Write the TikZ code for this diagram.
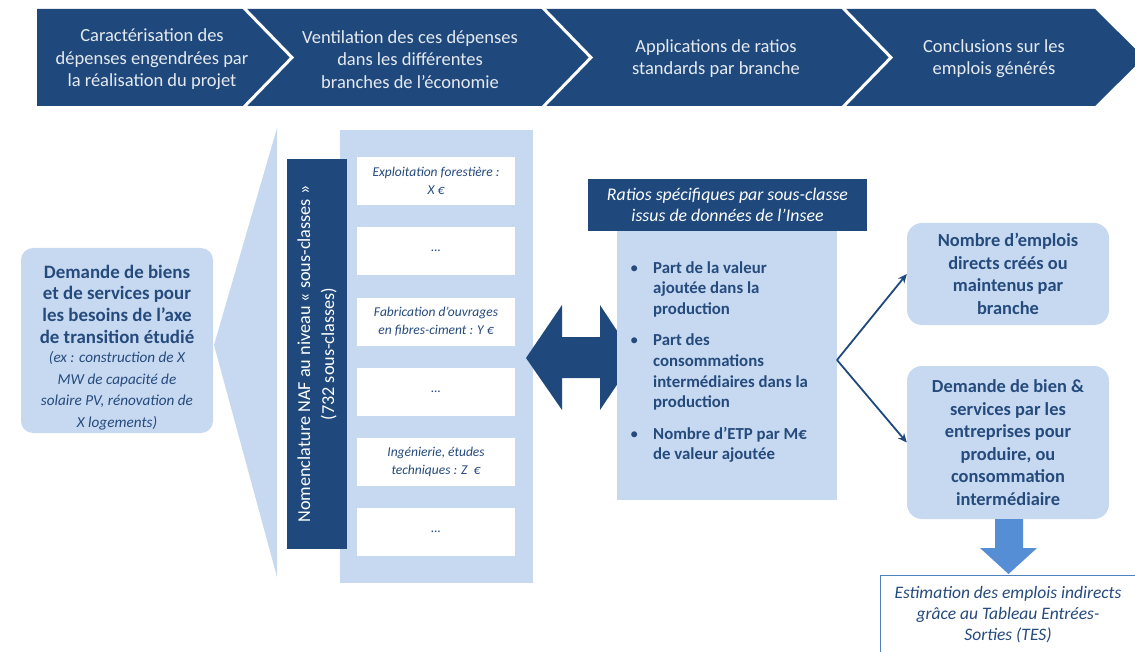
\documentclass[tikz,border=0pt]{standalone}
\usepackage{fontspec}
\setmainfont{Carlito}
\usetikzlibrary{arrows.meta}
\definecolor{navy}{HTML}{1F497D}
\definecolor{lightb}{HTML}{C6D9F1}
\definecolor{midb}{HTML}{558ED5}
\definecolor{bordb}{HTML}{4F81BD}
\definecolor{bandtext}{HTML}{E6EAF0}
\definecolor{txt}{HTML}{254A7C}
\newcommand{\boldsz}{\bfseries\fontsize{18.9}{21.8}\selectfont}
\newcommand{\itsz}{\mdseries\itshape\fontsize{15.2}{19.3}\selectfont}
\tikzset{
  bandtxt/.style={text=bandtext, align=center, font=\fontsize{18.5}{22.5}\selectfont},
  lightbox/.style={fill=lightb, rounded corners=12pt, inner sep=0pt, text=txt, align=center},
  whitebox/.style={fill=white, inner sep=0pt, minimum width=158pt, minimum height=48pt, text=txt, align=center, font=\itshape\fontsize{13.5}{18}\selectfont},
  fork/.style={draw=navy, line width=1.8pt, -{Stealth[length=9pt,width=8pt]}},
}
\begin{document}
\begin{tikzpicture}[x=1pt,y=-1pt]
\useasboundingbox (0,0) rectangle (1135,652);
% top band
\fill[navy] (37,9) -- (1095,9) -- (1144,57.5) -- (1095,106) -- (37,106) -- cycle;
\foreach \sx in {243,542,842}{
  \draw[white, line width=3pt] (\sx,7) -- (\sx+49,57.5) -- (\sx,108);
}
\node[bandtxt] (h1) at (152,59.5) {Caractérisation des\\dépenses engendrées par\\la réalisation du projet};
\node[bandtxt] (h2) at (410,59.5) {Ventilation des ces dépenses\\dans les différentes\\branches de l’économie};
\node[bandtxt] (h3) at (716,58.5) {Applications de ratios\\standards par branche};
\node[bandtxt] (h4) at (994,58.5) {Conclusions sur les\\emplois générés};

% left box
\node[lightbox, minimum width=192pt, minimum height=185pt] (demand) at (117,340.5) {};
\node[text=txt, align=center, inner sep=0pt, font=\boldsz] (demandtxt) at (117,347.5) {Demande de biens\\et de services pour\\les besoins de l’axe\\de transition étudié\\[-3pt]\itsz (ex : construction de X\\\itsz MW de capacité de\\\itsz solaire PV, rénovation de\\\itsz X logements)};

% funnel
\coordinate (apex) at (214,345);
\fill[lightb] (apex) -- (277,128) -- (277,577) -- cycle;

% panel
\node[fill=lightb, inner sep=0pt, minimum width=193pt, minimum height=453pt] (panel) at (436.5,356.5) {};
\node[fill=navy, inner sep=0pt, rotate=90, minimum width=390pt, minimum height=60pt, text=white, align=center,
      font=\fontsize{18.2}{24}\selectfont] (naf) at (317,354)
 {Nomenclature NAF au niveau « sous-classes »\\(732 sous-classes)};
\node[whitebox] (w1) at (436,181) {Exploitation forestière :\\X €};
\node[whitebox] (w2) at (436,251) {…};
\node[whitebox] (w3) at (436,322) {Fabrication d’ouvrages\\en fibres-ciment : Y €};
\node[whitebox] (w4) at (436,392) {…};
\node[whitebox] (w5) at (436,462) {Ingénierie, études\\techniques : Z~~€};
\node[whitebox] (w6) at (436,532) {…};

% double arrow
\fill[navy] (526,358) -- (562,305) -- (562,337) -- (600,337) -- (600,305) -- (635,358)
  -- (600,410) -- (600,378) -- (562,378) -- (562,410) -- cycle;

% ratios
\node[fill=lightb, inner sep=0pt, minimum width=220pt, minimum height=269pt] (ratios) at (727,365.5) {};
\node[fill=navy, inner sep=0pt, minimum width=279pt, minimum height=52pt, text=white, align=center,
      font=\itshape\fontsize{17.8}{21}\selectfont] (rhead) at (727.5,205)
 {Ratios spécifiques par sous-classe\\issus de données de l’Insee};
\node[anchor=north west, inner sep=0pt, text=txt, font=\bfseries\fontsize{16.8}{20.6}\selectfont] (bullets) at (630,258.5)
 {\begin{tabular}{@{}p{23pt}@{}l@{}}
  \mdseries • & Part de la valeur\\
   & ajoutée dans la\\
   & production\\[11pt]
  \mdseries • & Part des\\
   & consommations\\
   & intermédiaires dans la\\
   & production\\[11pt]
  \mdseries • & Nombre d’ETP par M€\\
   & de valeur ajoutée
 \end{tabular}};

% right boxes
\node[lightbox, rounded corners=15pt, minimum width=202pt, minimum height=102pt,
      font=\bfseries\fontsize{18.4}{22.5}\selectfont] (r1) at (1008,274)
 {Nombre d’emplois\\directs créés ou\\maintenus par\\branche};
\node[lightbox, rounded corners=15pt, minimum width=202pt, minimum height=153pt,
      font=\bfseries\fontsize{18.4}{22.5}\selectfont] (r2) at (1008,442.5)
 {Demande de bien \&\\services par les\\entreprises pour\\produire, ou\\consommation\\intermédiaire};
\coordinate (forkpt) at (837,360);
\draw[fork] (forkpt) -- (r1.west);
\draw[fork] (forkpt) -- (r2.west);

% estimation box
\node[draw=bordb, line width=0.9pt, fill=white, inner sep=0pt, minimum width=262pt, minimum height=90pt, anchor=north west] (estbox) at (880,575) {};
\node[text=txt, align=center, font=\itshape\fontsize{17.5}{21}\selectfont] (est) at (1008,615)
 {Estimation des emplois indirects\\grâce au Tableau Entrées-\\Sorties (TES)};
% down block arrow
\fill[midb] (995,519) -- (1023,519) -- (1023,548) -- (1037,548) -- (1008.5,574) -- (980,548) -- (995,548) -- cycle;
\end{tikzpicture}
\end{document}
